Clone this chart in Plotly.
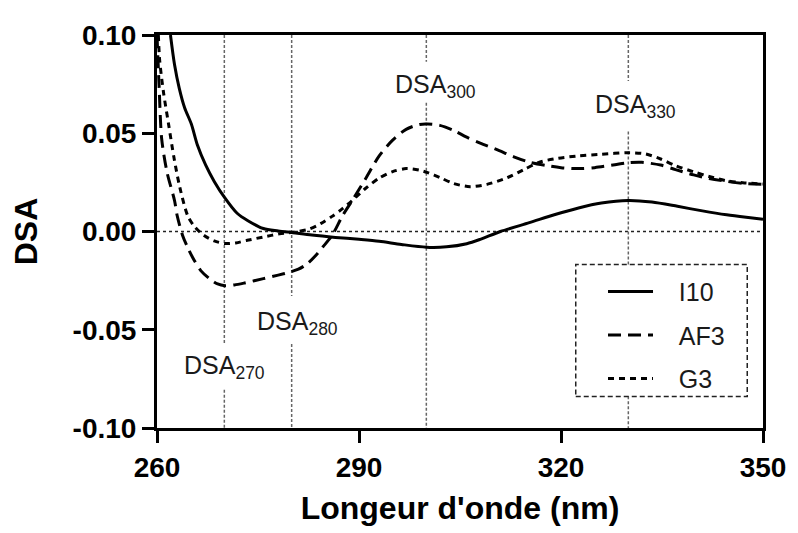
import plotly.graph_objects as go

# ---- data ----
i10_x = [262.0, 262.6, 263.3, 264.1, 265.1, 266.0, 267.2, 268.5, 270.0, 271.9, 273.5, 275.8,
         278.0, 280.2, 283.0, 286.5, 290.0, 293.0, 296.3, 300.0, 303.0, 306.0, 308.0, 311.0,
         315.3, 319.0, 322.6, 326.0, 330.0, 333.5, 337.3, 341.0, 344.6, 347.5, 350.0]
i10_y = [0.100, 0.085, 0.073, 0.063, 0.0547, 0.0440, 0.0340, 0.0255, 0.0175, 0.0093, 0.0055, 0.0015,
         0.0003, -0.0006, -0.0018, -0.0030, -0.0040, -0.0050, -0.0066, -0.0080, -0.0078, -0.0062,
         -0.0040, 0.0000, 0.0045, 0.0085, 0.0120, 0.0145, 0.0158, 0.0150, 0.0128, 0.0105, 0.0085,
         0.0072, 0.0062]

af3_x = [260.0, 260.3, 260.7, 261.5, 262.6, 263.0, 263.8, 264.6, 265.5, 266.5, 267.8, 269.0,
         270.1, 271.5, 273.0, 275.8, 278.0, 279.7, 281.0, 282.3, 283.5, 284.6, 286.0, 287.5,
         289.0, 291.0, 293.0, 295.0, 297.0, 299.0, 300.2, 302.0, 304.0, 306.0, 308.0, 310.4,
         313.0, 315.3, 318.0, 320.0, 322.6, 325.0, 328.0, 330.0, 332.0, 334.8, 337.0, 339.7,
         342.0, 344.6, 347.0, 350.0]
af3_y = [0.100, 0.075, 0.047, 0.030, 0.0158, 0.0080, -0.0020, -0.0085, -0.0145, -0.0199, -0.0240,
         -0.0267, -0.0276, -0.0272, -0.0262, -0.0240, -0.0222, -0.0207, -0.0192, -0.0165, -0.0125,
         -0.0080, -0.0020, 0.0077, 0.0158, 0.0270, 0.0385, 0.0465, 0.0520, 0.0545, 0.0547, 0.0540,
         0.0515, 0.0480, 0.0450, 0.0418, 0.0380, 0.0353, 0.0335, 0.0325, 0.0320, 0.0325, 0.0340,
         0.0350, 0.0352, 0.0338, 0.0315, 0.0288, 0.0270, 0.0255, 0.0245, 0.0240]

g3_x = [260.2, 260.4, 261.0, 261.7, 262.5, 263.4, 264.6, 265.7, 267.0, 268.5, 270.1, 271.7,
        273.4, 275.8, 278.2, 280.5, 282.6, 284.3, 286.0, 287.5, 289.0, 291.0, 293.0, 295.0,
        297.0, 299.0, 300.2, 302.0, 304.0, 306.5, 309.0, 311.9, 314.5, 316.8, 319.5, 322.6,
        326.0, 330.0, 332.5, 334.8, 337.0, 339.7, 342.0, 344.6, 347.0, 350.0]
g3_y = [0.100, 0.087, 0.070, 0.055, 0.038, 0.0223, 0.0077, 0.0020, -0.0020, -0.0048, -0.0061,
        -0.0058, -0.0045, -0.0028, -0.0012, -0.0002, 0.0012, 0.0040, 0.0077, 0.0115, 0.0158,
        0.0220, 0.0272, 0.0305, 0.0320, 0.0312, 0.0300, 0.0275, 0.0245, 0.0228, 0.0240, 0.0272,
        0.0315, 0.0353, 0.0372, 0.0385, 0.0393, 0.0401, 0.0395, 0.0369, 0.0335, 0.0304, 0.0280,
        0.0258, 0.0248, 0.0242]

series_names = ["I10", "AF3", "G3"]

x_tickvals = [260, 290, 320, 350]
y_tickvals = [0.10, 0.05, 0.00, -0.05, -0.10]
y_ticktext = ["0.10", "0.05", "0.00", "-0.05", "-0.10"]

# reference wavelengths and their labels
ref_wl = [270, 280, 300, 330]
ref_label_sub = ["270", "280", "300", "330"]
ref_label_x = [270.0, 280.8, 301.4, 331.1]
ref_label_y = [-0.069, -0.0465, 0.0742, 0.064]
# vertical line gaps (around labels / legend)
ref_gaps = [[(-0.0572, -0.0805)], [(-0.0328, -0.0572)], [(0.0864, 0.0655)],
            [(0.0766, 0.0509), (-0.0168, -0.0839)]]

FONT = "Arial, Liberation Sans, sans-serif"
NB = "\u00a0"

fig = go.Figure()
fig.add_trace(go.Scatter(x=i10_x, y=i10_y, name=NB * 3 + series_names[0], mode="lines",
                         line=dict(color="black", width=3, shape="spline", smoothing=0.8)))
fig.add_trace(go.Scatter(x=af3_x, y=af3_y, name=NB * 3 + series_names[1], mode="lines",
                         line=dict(color="black", width=3, dash="13px,7px", shape="spline", smoothing=0.8)))
fig.add_trace(go.Scatter(x=g3_x, y=g3_y, name=NB * 3 + series_names[2], mode="lines",
                         line=dict(color="black", width=3, dash="6px,5px", shape="spline", smoothing=0.8)))

shapes = []
# zero line
shapes.append(dict(type="line", xref="paper", yref="y", x0=0, x1=1, y0=0, y1=0,
                   line=dict(color="#222", width=1.5, dash="3px,3px"), layer="below"))
# vertical reference lines with gaps
for wl, gaps in zip(ref_wl, ref_gaps):
    top = 0.10
    for (g_top, g_bot) in gaps:
        shapes.append(dict(type="line", xref="x", yref="y", x0=wl, x1=wl, y0=top, y1=g_top,
                           line=dict(color="#666", width=1.5, dash="3px,2px"), layer="below"))
        top = g_bot
    shapes.append(dict(type="line", xref="x", yref="y", x0=wl, x1=wl, y0=top, y1=-0.10,
                       line=dict(color="#666", width=1.5, dash="3px,2px"), layer="below"))
# dashed legend box
shapes.append(dict(type="rect", xref="paper", yref="paper", x0=0.691, x1=0.974, y0=0.080, y1=0.416,
                   line=dict(color="#222", width=1.5, dash="5px,3px"), fillcolor="rgba(0,0,0,0)"))

annotations = []
for sub, lx, ly in zip(ref_label_sub, ref_label_x, ref_label_y):
    annotations.append(dict(x=lx, y=ly, xref="x", yref="y", showarrow=False,
                            text=f"DSA<sub>{sub}</sub>", xanchor="center", yanchor="middle",
                            font=dict(family=FONT, size=25, color="#1a1a1a")))

# the page body adds an 8 px offset; compensate so the plot area sits where the reference has it
fig.update_layout(
    width=790, height=525,
    margin=dict(l=144, r=31, t=19, b=95),
    paper_bgcolor="white", plot_bgcolor="white",
    shapes=shapes, annotations=annotations,
    showlegend=True,
    legend=dict(x=0.736, y=0.405, xanchor="left", yanchor="top",
                bgcolor="rgba(0,0,0,0)", borderwidth=0,
                font=dict(family=FONT, size=25, color="#1a1a1a"),
                itemwidth=45, tracegroupgap=8),
    xaxis=dict(range=[260, 350], tickvals=x_tickvals, ticks="outside", ticklen=12, tickwidth=3,
               tickcolor="black", showline=True, linewidth=3, linecolor="black", mirror=True,
               showgrid=False, zeroline=False,
               tickfont=dict(family=FONT, size=28, color="black", weight="bold"),
               title=dict(text="Longeur d'onde (nm)", standoff=16,
                          font=dict(family=FONT, size=32, color="black", weight="bold"))),
    yaxis=dict(range=[-0.10, 0.10], tickvals=y_tickvals, ticktext=y_ticktext, ticks="outside",
               ticklen=12, tickwidth=3, tickcolor="black", showline=True, linewidth=3,
               linecolor="black", mirror=True, showgrid=False, zeroline=False,
               tickfont=dict(family=FONT, size=28, color="black", weight="bold"),
               title=dict(text="DSA", standoff=30,
                          font=dict(family=FONT, size=32, color="black", weight="bold"))),
)
for i, tr in enumerate(fig.data):
    tr.legendgroup = f"g{i}"

fig.write_html("out.html")
